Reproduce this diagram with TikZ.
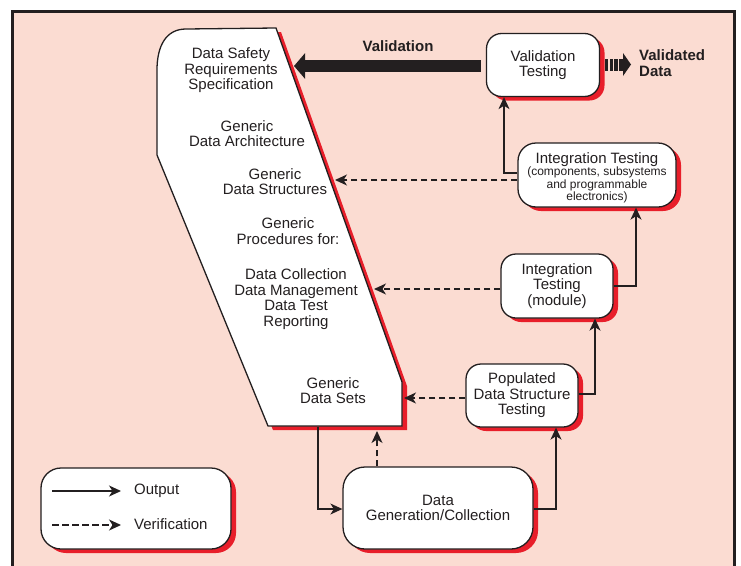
\documentclass[tikz,border=0pt]{standalone}
\usepackage{fontspec}
\setmainfont{Liberation Sans}
\usetikzlibrary{arrows.meta,shadows,calc}
\definecolor{bgpink}{RGB}{251,220,210}
\definecolor{shred}{RGB}{232,30,42}
\definecolor{ink}{RGB}{35,31,32}
\newcommand\smtxt{\fontsize{12}{12}\selectfont}
\begin{document}
\begin{tikzpicture}[x=1pt,y=-1pt,
  every node/.style={font=\fontsize{15}{15.5}\selectfont, align=center, inner sep=0pt, text=ink},
  box/.style={draw=ink, line width=1.3pt, fill=white, rounded corners=15pt,
     general shadow={fill=shred, shadow xshift=5pt, shadow yshift=-4pt}},
  outarr/.style={draw=ink, line width=1.3pt, -{Stealth[length=12pt,width=11pt,inset=3.5pt]}},
  verarr/.style={outarr, dash pattern=on 6.5pt off 3.5pt},
  ]
\useasboundingbox (0,0) rectangle (741,565);
% frame
\begin{scope}
\clip (0,0) rectangle (741,565);
\fill[white] (0,0) rectangle (741,565);
\draw[ink, line width=3pt, fill=bgpink] (12.5,11.5) rectangle (734.5,590);
\end{scope}

% spec shape
\def\specpath{(157,155) -- (157,70) .. controls (157,46) and (166,29) .. (186,29) -- (276,28) -- (402,382) -- (402,426) -- (268,426) -- cycle}
\fill[shred, shift={(5,4)}] \specpath;
\draw[ink, line width=1.3pt, fill=white] \specpath;

\node (specA) at (231,70.5) {Data Safety\\Requirements\\Specification};
\node (specB) at (247,133.5) {Generic\\Data Architecture};
\node (specC) at (275,181.5) {Generic\\Data Structures};
\node (specD) at (288,231) {Generic\\Procedures for:};
\node (specE) at (296,299) {Data Collection\\Data Management\\Data Test\\Reporting};
\node (specF) at (333,390.5) {Generic\\Data Sets};

% boxes
\node[box, minimum width=113pt, minimum height=63pt] (vt) at (543,65) {Validation\\Testing};
\node[box, rounded corners=18pt, minimum width=158pt, minimum height=64pt] (itc) at (597,175)
  {\rule{0pt}{16pt}Integration Testing\\[-3pt]\smtxt (components, subsystems\\[-3pt]\smtxt and programmable\\[-3pt]\smtxt electronics)};
\node[box, minimum width=112pt, minimum height=64pt] (itm) at (557,286) {Integration\\Testing\\(module)};
\node[box, minimum width=112pt, minimum height=63pt] (pop) at (522,395.5) {Populated\\Data Structure\\Testing};
\node[box, rounded corners=22pt, minimum width=190pt, minimum height=82pt] (dg) at (438,508) {Data\\Generation/Collection};
\node[box, rounded corners=20pt, minimum width=190pt, minimum height=81pt] (leg) at (136,508.5) {};

% validation big arrow
\node[font=\fontsize{15}{15.5}\selectfont\bfseries] (vallab) at (398,46.5) {Validation};
\coordinate (valtip) at (294,66);
\draw[ink, line width=12pt, -{Triangle[length=11pt,width=25pt]}] ([xshift=-5pt]vt.west |- valtip) -- (valtip);

% validated data striped arrow
\foreach \i in {0,1,2,3} \fill[ink] (605+\i*4.7,58.5) rectangle ++(3.4,12);
\fill[ink] (623,53) -- (631,64.5) -- (623,76) -- cycle;
\node[anchor=west, align=left, font=\fontsize{15}{15.5}\selectfont\bfseries] (vdata) at (639,63) {Validated\\Data};

% connectors
\coordinate (c1) at (504,173);
\draw[outarr] (itc.west |- c1) -- (c1) -- (c1 |- vt.south);
\coordinate (tipC) at (335,180);
\draw[verarr] (itc.west |- tipC) -- (tipC);

\coordinate (c2) at (636,286);
\draw[outarr] (itm.east |- c2) -- (c2) -- (c2 |- itc.south);
\coordinate (tipE) at (374,289);
\draw[verarr] (itm.west |- tipE) -- (tipE);

\coordinate (c3) at (595,394);
\draw[outarr] (pop.east |- c3) -- (c3) -- (c3 |- itm.south);
\coordinate (tipF) at (404,398);
\draw[verarr] (pop.west |- tipF) -- (tipF);

\coordinate (sb) at (318,427);
\coordinate (c4) at (318,509);
\draw[outarr] (sb) -- (c4) -- (dg.west |- c4);
\coordinate (tipG) at (377,431);
\draw[verarr] (dg.north -| tipG) -- (tipG);
\coordinate (c5) at (556,509);
\draw[outarr] (dg.east |- c5) -- (c5) -- (c5 |- pop.south);

% legend
\coordinate (la1) at (52,491);
\coordinate (la2) at (121,491);
\draw[outarr] (la1) -- (la2);
\node[anchor=west] (lt1) at (134,491) {Output};
\coordinate (lb1) at (52,525);
\coordinate (lb2) at (121,525);
\draw[verarr] (lb1) -- (lb2);
\node[anchor=west] (lt2) at (134,524) {Verification};
\end{tikzpicture}
\end{document}
